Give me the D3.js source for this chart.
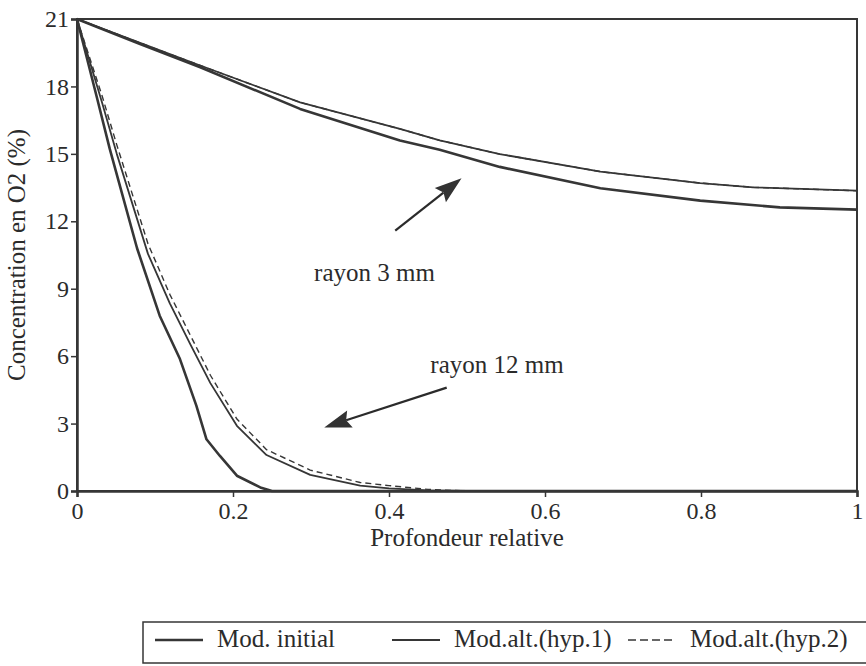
<!DOCTYPE html>
<html>
<head>
<meta charset="utf-8">
<script src="https://cdn.jsdelivr.net/npm/d3@7/dist/d3.min.js"></script>
<style>
body { margin: 0; background: #fff; }
text { font-family: "Liberation Serif", "Times New Roman", serif; fill: #2b2b2b; }
</style>
</head>
<body>
<div id="chart"></div>
<script>
// axis ticks
var depthTicks = [0, 0.2, 0.4, 0.6, 0.8, 1];
var concTicks = [0, 3, 6, 9, 12, 15, 18, 21];

// rayon 3 mm
var depth3Init = [0, 0.029, 0.08, 0.158, 0.286, 0.414, 0.465, 0.542, 0.671, 0.799, 0.901, 1];
var conc3Init  = [21, 20.6, 19.9, 18.85, 17.0, 15.59, 15.18, 14.42, 13.47, 12.92, 12.62, 12.52];
var depth3Hyp  = [0, 0.029, 0.08, 0.158, 0.286, 0.414, 0.465, 0.542, 0.671, 0.799, 0.867, 1];
var conc3Hyp1  = [21, 20.62, 19.95, 18.93, 17.29, 16.11, 15.6, 14.99, 14.21, 13.7, 13.51, 13.36];
var conc3Hyp2  = [21, 20.62, 19.95, 18.93, 17.29, 16.11, 15.6, 14.99, 14.21, 13.7, 13.51, 13.36];

// rayon 12 mm
var depth12Init = [0, 0.026, 0.042, 0.077, 0.106, 0.132, 0.153, 0.166, 0.183, 0.205, 0.235, 0.25, 0.3, 1];
var conc12Init  = [21, 17.44, 15.22, 10.8, 7.8, 5.87, 3.8, 2.3, 1.57, 0.68, 0.16, 0, 0, 0];
var depth12Hyp  = [0, 0.032, 0.051, 0.091, 0.119, 0.145, 0.171, 0.205, 0.243, 0.299, 0.363, 0.4, 0.45, 0.5, 1];
var conc12Hyp1  = [21, 17.3, 15.0, 10.55, 8.35, 6.55, 4.8, 2.9, 1.6, 0.72, 0.24, 0.12, 0.03, 0, 0];
var conc12Hyp2  = [21, 17.6, 15.4, 11.0, 8.75, 6.95, 5.15, 3.2, 1.84, 0.93, 0.38, 0.24, 0.07, 0, 0];

var legendLabels = ["Mod. initial", "Mod.alt.(hyp.1)", "Mod.alt.(hyp.2)"];

// annotations (in data units)
var noteLabels = ["rayon 3 mm", "rayon 12 mm"];
var noteTextAt = [[0.304, 9.36], [0.453, 5.24]];
var arrowFrom = [[0.408, 11.58], [0.474, 4.60]];
var arrowTo   = [[0.493, 13.91], [0.317, 2.83]];

var ink = "#363636";

var svg = d3.select("#chart").append("svg")
  .attr("width", 866).attr("height", 666);

var marginLeft = 77, marginTop = 19;
var width = 780, height = 472;

var x = d3.scaleLinear().domain([0, 1]).range([0, width]);
var y = d3.scaleLinear().domain([0, 21]).range([height, 0]);

var chart = svg.append("g")
  .attr("transform", "translate(" + marginLeft + "," + marginTop + ")");

// frame
chart.append("rect")
  .attr("width", width).attr("height", height)
  .attr("fill", "none").attr("stroke", ink).attr("stroke-width", 2);

var xAxis = chart.append("g")
  .attr("transform", "translate(0," + height + ")")
  .call(d3.axisBottom(x).tickValues(depthTicks).tickSize(6).tickPadding(5)
    .tickFormat(function(d) { return d === 0 || d === 1 ? d : d3.format(".1f")(d); }));

var yAxis = chart.append("g")
  .call(d3.axisLeft(y).tickValues(concTicks).tickSize(6).tickPadding(2));

[xAxis, yAxis].forEach(function(a) {
  a.select(".domain").attr("stroke", ink).attr("stroke-width", 2.5);
  a.selectAll(".tick line").attr("stroke", ink).attr("stroke-width", 1.5);
  a.selectAll(".tick text").attr("font-size", 24).attr("fill", "#2b2b2b")
    .style("font-family", "'Liberation Serif', serif");
});

// axis titles
chart.append("text")
  .attr("x", width / 2).attr("y", height + 55)
  .attr("text-anchor", "middle").attr("font-size", 25)
  .text("Profondeur relative");

chart.append("text")
  .attr("transform", "translate(-52," + (height / 2) + ") rotate(-90)")
  .attr("text-anchor", "middle").attr("font-size", 25)
  .text("Concentration en O2 (%)");

// curves
var line = d3.line()
  .x(function(d) { return x(d[0]); })
  .y(function(d) { return y(d[1]); });

function zip(a, b) { return a.map(function(v, i) { return [v, b[i]]; }); }

var series = [
  { pts: zip(depth3Init, conc3Init), w: 2.6, dash: null },
  { pts: zip(depth3Hyp, conc3Hyp1), w: 1.8, dash: null },
  { pts: zip(depth3Hyp, conc3Hyp2), w: 1.4, dash: "6,4" },
  { pts: zip(depth12Init, conc12Init), w: 2.6, dash: null },
  { pts: zip(depth12Hyp, conc12Hyp1), w: 1.8, dash: null },
  { pts: zip(depth12Hyp, conc12Hyp2), w: 1.4, dash: "6,4" }
];

chart.selectAll("path.curve")
  .data(series)
  .enter().append("path")
  .attr("class", "curve")
  .attr("d", function(d) { return line(d.pts); })
  .attr("fill", "none")
  .attr("stroke", ink)
  .attr("stroke-width", function(d) { return d.w; })
  .attr("stroke-dasharray", function(d) { return d.dash; })
  .attr("stroke-linejoin", "round");

// annotations with arrows
noteLabels.forEach(function(t, i) {
  chart.append("text")
    .attr("x", x(noteTextAt[i][0])).attr("y", y(noteTextAt[i][1]))
    .attr("font-size", 25)
    .text(t);

  var x0 = x(arrowFrom[i][0]), y0 = y(arrowFrom[i][1]);
  var x1 = x(arrowTo[i][0]), y1 = y(arrowTo[i][1]);
  var dx = x1 - x0, dy = y1 - y0, len = Math.sqrt(dx * dx + dy * dy);
  var ux = dx / len, uy = dy / len;
  var headL = 27, headW = 9;
  var bx = x1 - ux * headL, by = y1 - uy * headL;

  chart.append("line")
    .attr("x1", x0).attr("y1", y0).attr("x2", bx + ux * 4).attr("y2", by + uy * 4)
    .attr("stroke", "#2b2b2b").attr("stroke-width", 2.2);

  chart.append("path")
    .attr("d", "M" + x1 + "," + y1 +
      "L" + (bx - uy * headW) + "," + (by + ux * headW) +
      "L" + (bx + ux * 4) + "," + (by + uy * 4) +
      "L" + (bx + uy * headW) + "," + (by - ux * headW) + "Z")
    .attr("fill", "#333");
});

// legend
var legend = svg.append("g").attr("transform", "translate(143,622)");

legend.append("rect")
  .attr("width", 740).attr("height", 41)
  .attr("fill", "none").attr("stroke", ink).attr("stroke-width", 1.5);

var legendX = [12, 249, 485];
var legendW = [2.4, 1.8, 1.6];
var legendDash = [null, null, "8,4"];

legendLabels.forEach(function(l, i) {
  legend.append("line")
    .attr("x1", legendX[i]).attr("x2", legendX[i] + 48)
    .attr("y1", 18).attr("y2", 18)
    .attr("stroke", ink).attr("stroke-width", legendW[i])
    .attr("stroke-dasharray", legendDash[i]);
  legend.append("text")
    .attr("x", legendX[i] + 62).attr("y", 25)
    .attr("font-size", 25)
    .text(l);
});
</script>
</body>
</html>
